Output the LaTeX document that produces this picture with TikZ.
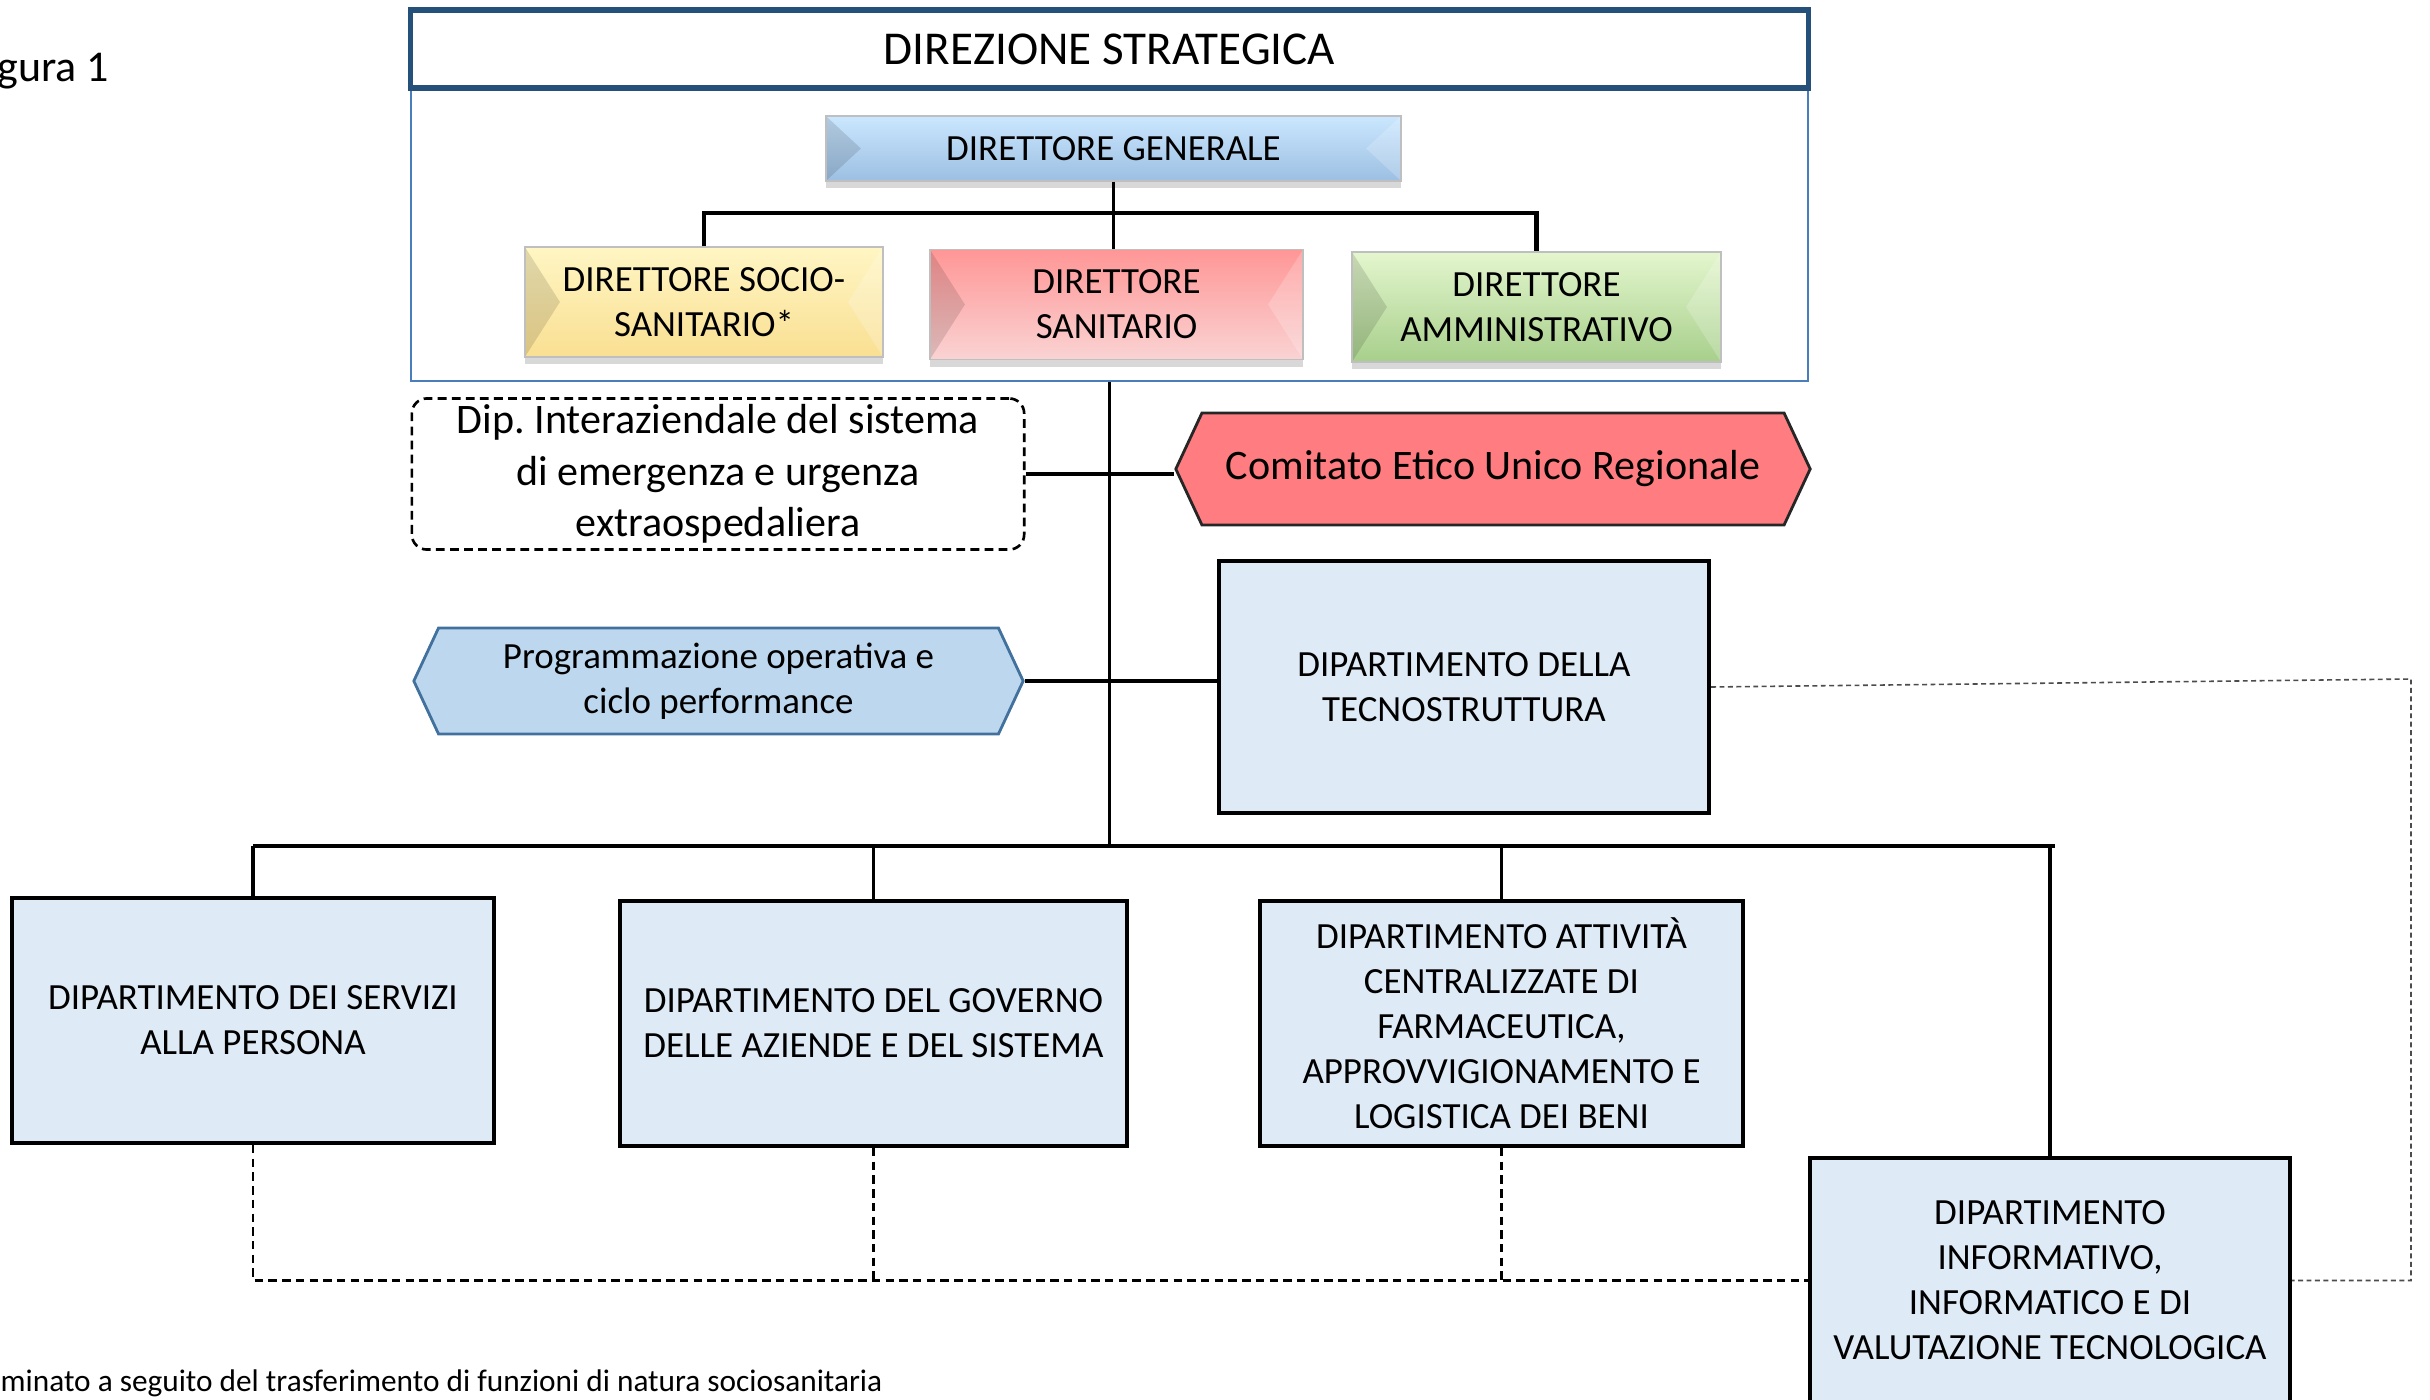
\documentclass[tikz,border=0pt]{standalone}
\usepackage{fontspec}
\setmainfont{Carlito}
\usetikzlibrary{shapes.symbols,shadows}

\definecolor{stratblue}{HTML}{24507A}
\definecolor{frameblue}{HTML}{4A7EBB}
\definecolor{dgtop}{HTML}{CBE7FF}
\definecolor{dgmain}{HTML}{9CBFE2}
\definecolor{sociotop}{HTML}{FFF6C4}
\definecolor{sociomain}{HTML}{F9DF92}
\definecolor{santop}{HTML}{FF9696}
\definecolor{sanbot}{HTML}{FAD3D3}
\definecolor{ammtop}{HTML}{E4F6CE}
\definecolor{ammmain}{HTML}{A7CF8B}
\definecolor{eticored}{HTML}{FF7C80}
\definecolor{progfill}{HTML}{BDD7EE}
\definecolor{progborder}{HTML}{41719C}
\definecolor{deptfill}{HTML}{DEEAF6}

\newcommand{\ftnorm}{\fontsize{10.5}{12.8}\selectfont}
\newcommand{\ftmid}{\fontsize{11.95}{14.6}\selectfont}
\newcommand{\ftbig}{\fontsize{13.4}{16.3}\selectfont}
\newcommand{\ftfig}{\fontsize{12.5}{15}\selectfont}
\newcommand{\ftnote}{\fontsize{8.9}{10.9}\selectfont}

\begin{document}
\begin{tikzpicture}[x=0.01cm,y=-0.01cm]

		\useasboundingbox (0,0) rectangle (2430,1400);
		\clip (0,0) rectangle (2430,1400);
		\fill[white] (0,0) rectangle (2430,1400);

		\tikzstyle{director}=[rectangle, draw=white!75!black, line width=0.4pt, inner sep=0pt, align=center, font=\ftnorm, minimum height=1.1cm,
			drop shadow={shadow xshift=0cm, shadow yshift=-0.07cm, opacity=0.3},
			path picture={
				\fill[black, opacity=0.12] (path picture bounding box.north west) -- ([xshift=0.35cm]path picture bounding box.west) -- (path picture bounding box.south west) -- cycle;
				\fill[white, opacity=0.2] (path picture bounding box.north east) -- ([xshift=-0.35cm]path picture bounding box.east) -- (path picture bounding box.south east) -- cycle;
			}]

		\tikzstyle{department}=[rectangle, draw=black, line width=1.1pt, fill=deptfill, inner sep=0pt, align=center, font=\ftnorm, minimum height=2.45cm]

		\tikzstyle{staff}=[signal, signal to=west and east, signal pointer angle=130, inner sep=0pt, align=center, line width=0.8pt]

		\node[anchor=base west, font=\ftfig, inner sep=0pt] (F) at (-3,82) {gura 1};

		\node[draw=frameblue, line width=0.6pt, minimum width=13.97cm, minimum height=2.93cm, inner sep=0pt] (DB) at (1109.5,234.5) {};
		\node[draw=stratblue, line width=1.5pt, fill=white, minimum width=13.97cm, minimum height=0.78cm, inner sep=0pt, font=\ftbig] (DS) at (1109.5,49) {DIREZIONE STRATEGICA};

		\node[director, minimum width=5.75cm, minimum height=0.65cm, top color=dgtop, middle color=dgmain, bottom color=dgmain] (DG) at (1113.5,148.5) {DIRETTORE GENERALE};

		\node[director, minimum width=3.58cm, top color=sociotop, middle color=sociomain, bottom color=sociomain] (SS) at (704,302) {DIRETTORE SOCIO-\\SANITARIO*};
		\node[director, minimum width=3.73cm, top color=santop, bottom color=sanbot] (SA) at (1116.5,304.5) {DIRETTORE\\SANITARIO};
		\node[director, minimum width=3.69cm, top color=ammtop, middle color=ammmain, bottom color=ammmain] (AM) at (1536.5,307) {DIRETTORE\\AMMINISTRATIVO};

		\node[draw, line width=0.75pt, dash pattern=on 2.5pt off 1.5pt, rounded corners=0.15cm, minimum width=6.12cm, minimum height=1.51cm, inner sep=0pt, align=center, font=\ftmid] (DI) at (718,474) {Dip.\ Interaziendale del sistema\\di emergenza e urgenza\\extraospedaliera};
		\node[staff, draw=black!85, fill=eticored, minimum width=6.34cm, minimum height=1.12cm, font=\ftmid] (CE) at (1493,469) {Comitato Etico Unico Regionale};
		\node[staff, draw=progborder, fill=progfill, minimum width=6.09cm, minimum height=1.06cm, font=\ftnorm] (PO) at (718.5,681) {Programmazione operativa e\\ciclo performance};
		\node[department, minimum width=4.9cm, minimum height=2.52cm] (TE) at (1464,687) {DIPARTIMENTO DELLA\\TECNOSTRUTTURA};

		\node[department, minimum width=4.82cm] (D1) at (253,1020.5) {DIPARTIMENTO DEI SERVIZI\\ALLA PERSONA};
		\node[department, minimum width=5.07cm] (D2) at (873.5,1023.5) {DIPARTIMENTO DEL GOVERNO\\DELLE AZIENDE E DEL SISTEMA};
		\node[department, minimum width=4.83cm] (D3) at (1501.5,1023.5) {DIPARTIMENTO ATTIVITÀ\\CENTRALIZZATE DI\\FARMACEUTICA,\\APPROVVIGIONAMENTO E\\LOGISTICA DEI BENI};
		\node[department, minimum width=4.8cm] (D4) at (2050,1280.5) {DIPARTIMENTO\\INFORMATIVO,\\INFORMATICO E DI\\VALUTAZIONE TECNOLOGICA};

		\node[anchor=base west, font=\ftnote, inner sep=0pt] (N) at (0,1391) {minato a seguito del trasferimento di funzioni di natura sociosanitaria};

		\tikzstyle{link}=[line width=1pt]
		\tikzstyle{bus}=[line width=1.3pt]
		\tikzstyle{dashlink}=[line width=0.6pt, dash pattern=on 2.4pt off 1.5pt]
		\tikzstyle{dotlink}=[line width=0.45pt, gray!60!black, dash pattern=on 1.4pt off 1pt]

		\coordinate (DJ) at (1113,213);
		\coordinate (BL) at (253,846);
		\coordinate (BR) at (2055,846);
		\coordinate (RT) at (2411,679);

		\draw[link] (DG.south) -- (DG.south |- SA.north);
		\draw[bus] (SS.north) |- (DJ) -| (AM.north);

		\draw[link] (DB.south) -- (DB.south |- BL);
		\draw[link] (DI.east) -- (DI.east -| CE.west);
		\draw[link] (PO.east) -- (PO.east -| TE.west);

		\draw[bus] (BL) -- (BR);
		\draw[link] (D1.north) -- (D1.north |- BL);
		\draw[link] (D2.north) -- (D2.north |- BL);
		\draw[link] (D3.north) -- (D3.north |- BL);
		\draw[link] (D4.north) -- (D4.north |- BL);

		\draw[dashlink] (D1.south) |- (D4.west);
		\draw[dashlink] (D2.south) -- (D2.south |- D4.west);
		\draw[dashlink] (D3.south) -- (D3.south |- D4.west);

		\draw[dotlink] (TE.east) -- (RT) |- (D4.east);

\end{tikzpicture}
\end{document}
